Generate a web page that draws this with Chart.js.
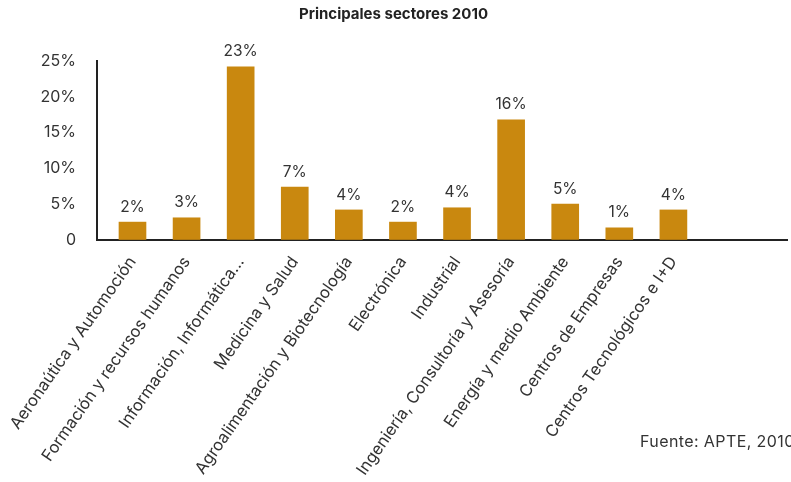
<!DOCTYPE html>
<html>
<head>
<meta charset="utf-8">
<script src="https://cdn.jsdelivr.net/npm/chart.js@4.4.1/dist/chart.umd.min.js"></script>
<style>
  html, body { margin: 0; padding: 0; background: #fff; }
  #wrap { position: relative; width: 791px; height: 482px; overflow: hidden; }
  #fuente { position: absolute; left: 640px; top: 431px; font: 16px Inter, "Noto Sans", sans-serif; letter-spacing: 0.4px; color: #333; white-space: nowrap; }
</style>
</head>
<body>
<div id="wrap">
  <canvas id="chart" width="791" height="482"></canvas>
  <div id="fuente">Fuente: APTE, 2010</div>
</div>
<script>
// Sectores y porcentajes
const sectores = [
    "Aeronaútica y Automoción",
    "Formación y recursos humanos",
    "Información, Informática...",
    "Medicina y Salud",
    "Agroalimentación y Biotecnología",
    "Electrónica",
    "Industrial",
    "Ingeniería, Consultoría y Asesoría",
    "Energía y medio Ambiente",
    "Centros de Empresas",
    "Centros Tecnológicos e I+D"
];
const valores = [2.5, 3.1, 24.2, 7.4, 4.2, 2.5, 4.5, 16.8, 5.0, 1.7, 4.2];
const etiquetas = ["2%", "3%", "23%", "7%", "4%", "2%", "4%", "16%", "5%", "1%", "4%"];
const yTicks = [0, 5, 10, 15, 20, 25];

const fontFamily = 'Inter, "Noto Sans", sans-serif';

// Draw the percentage labels above each bar
const barLabels = {
    id: 'barLabels',
    afterDatasetsDraw(chart) {
        const ctx = chart.ctx;
        const meta = chart.getDatasetMeta(0);
        ctx.save();
        ctx.font = '15.5px ' + fontFamily;
        ctx.fillStyle = '#333';
        ctx.textAlign = 'center';
        ctx.textBaseline = 'middle';
        meta.data.forEach((bar, i) => {
            ctx.fillText(etiquetas[i], bar.x, bar.y - 15);
        });
        ctx.restore();
    }
};

const ctx = document.getElementById('chart').getContext('2d');
new Chart(ctx, {
    type: 'bar',
    data: {
        datasets: [{
            data: sectores.map((s, i) => ({ x: i, y: valores[i] })),
            backgroundColor: '#C9880F',
            barThickness: 27
        }]
    },
    options: {
        responsive: false,
        animation: false,
        layout: { padding: { left: 0, right: 4, top: 0, bottom: 0 } },
        plugins: {
            legend: { display: false },
            tooltip: { enabled: false },
            title: {
                display: true,
                text: 'Principales sectores 2010',
                color: '#222',
                font: { family: fontFamily, size: 15, weight: 'bold' },
                padding: { top: 5, bottom: 38 }
            }
        },
        scales: {
            x: {
                type: 'linear',
                offset: false,
                min: -0.656,
                max: 12.1,
                afterBuildTicks: scale => {
                    scale.ticks = sectores.map((s, i) => ({ value: i }));
                },
                afterFit: scale => {
                    scale.height = 242;
                    scale.paddingLeft = 0;
                    scale.paddingRight = 0;
                },
                grid: { display: true, color: 'rgba(0,0,0,0)', drawTicks: false },
                border: { display: true, color: '#222', width: 2 },
                ticks: {
                    autoSkip: false,
                    minRotation: 55,
                    maxRotation: 55,
                    padding: 13,
                    color: '#333',
                    font: { family: fontFamily, size: 16.5 },
                    callback: v => sectores[v]
                }
            },
            y: {
                min: 0,
                max: 25,
                afterBuildTicks: scale => {
                    scale.ticks = yTicks.map(v => ({ value: v }));
                },
                afterFit: scale => { scale.width = 97; },
                grid: { display: true, color: 'rgba(0,0,0,0)', drawTicks: false },
                border: { display: true, color: '#222', width: 2 },
                ticks: {
                    padding: 21,
                    color: '#333',
                    font: { family: fontFamily, size: 16 },
                    callback: v => v === 0 ? '0' : v + '%'
                }
            }
        }
    },
    plugins: [barLabels]
});
</script>
</body>
</html>
